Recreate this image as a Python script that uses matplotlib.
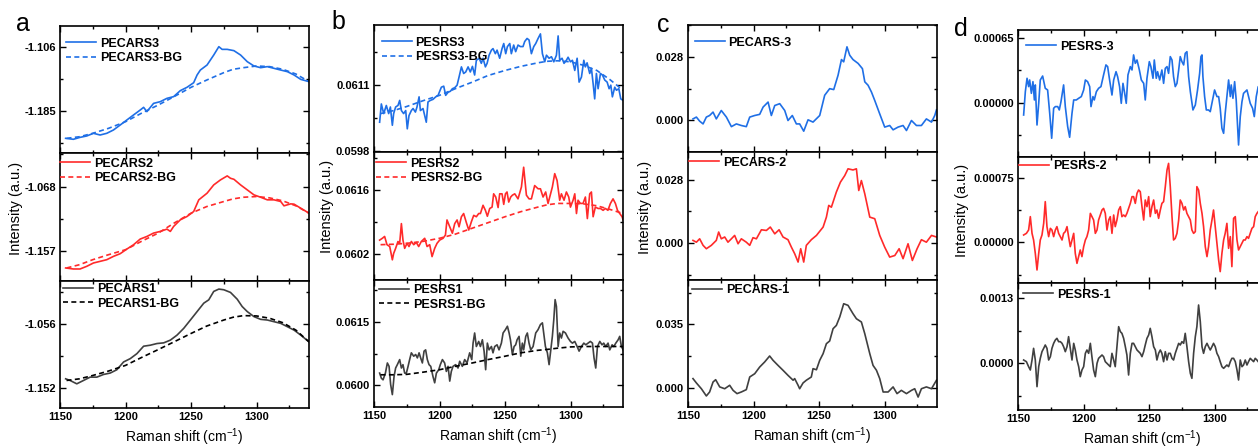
import matplotlib
matplotlib.use("Agg")
import matplotlib.pyplot as plt
from matplotlib.ticker import AutoMinorLocator, MultipleLocator

plt.rcParams['font.family'] = ['Liberation Sans', 'DejaVu Sans']
plt.rcParams['axes.unicode_minus'] = False
plt.rcParams['mathtext.fontset'] = 'custom'
plt.rcParams['mathtext.rm'] = 'Liberation Sans'
plt.rcParams['mathtext.default'] = 'regular'

BLUE = '#1f6fe6'
RED = '#ff2a2a'
GREY = '#404040'

# ---------------- panel a : PECARS raw spectra + backgrounds ----------------
a3_x = [1154.3, 1160.2, 1165.3, 1170.4, 1175.5, 1180.6, 1185.7, 1190.8, 1195.9, 1201.0,
        1206.1, 1211.2, 1213.8, 1216.3, 1221.4, 1226.5, 1231.6, 1236.7, 1241.8, 1246.9,
        1252.0, 1254.6, 1257.1, 1262.2, 1267.3, 1271.2, 1273.7, 1277.6, 1282.7, 1287.8,
        1292.9, 1298.0, 1303.1, 1308.2, 1313.3, 1318.4, 1323.5, 1328.6, 1333.7, 1340.0]
a3_y = [-1.2186, -1.2198, -1.2174, -1.2157, -1.2124, -1.2145, -1.2124, -1.2083, -1.2022, -1.1960,
        -1.1898, -1.1837, -1.1804, -1.1857, -1.1755, -1.1734, -1.1693, -1.1672, -1.1598, -1.1557,
        -1.1500, -1.1405, -1.1344, -1.1282, -1.1159, -1.1056, -1.1089, -1.1089, -1.1105, -1.1159,
        -1.1241, -1.1294, -1.1315, -1.1302, -1.1323, -1.1344, -1.1364, -1.1405, -1.1459, -1.1487]
bg_x = [1155, 1165, 1175, 1187, 1200, 1212, 1225, 1237, 1250, 1262,
        1275, 1282, 1290, 1300, 1310, 1320, 1330, 1340]
a3_bg = [-1.2186, -1.2166, -1.2124, -1.2063, -1.1981, -1.1878, -1.1775, -1.1672, -1.1557, -1.1467,
         -1.1376, -1.1335, -1.1315, -1.1294, -1.1302, -1.1335, -1.1393, -1.1487]

a2_x = [1154.3, 1160.2, 1165.3, 1170.4, 1175.5, 1180.6, 1185.7, 1190.8, 1195.9, 1201.0,
        1206.1, 1211.2, 1216.3, 1221.4, 1226.5, 1231.6, 1234.2, 1236.7, 1241.8, 1246.9,
        1252.0, 1255.9, 1262.2, 1267.3, 1272.4, 1277.6, 1280.1, 1282.7, 1287.8, 1292.9,
        1298.0, 1303.1, 1308.2, 1313.3, 1318.4, 1320.9, 1326.0, 1328.6, 1333.7, 1340.0]
a2_y = [-1.1809, -1.1823, -1.1823, -1.1786, -1.1740, -1.1717, -1.1694, -1.1648, -1.1611, -1.1547,
        -1.1487, -1.1408, -1.1372, -1.1325, -1.1302, -1.1270, -1.1302, -1.1233, -1.1141, -1.1095,
        -1.1026, -1.0864, -1.0772, -1.0657, -1.0588, -1.0532, -1.0565, -1.0579, -1.0657, -1.0726,
        -1.0795, -1.0828, -1.0864, -1.0864, -1.0887, -1.0947, -1.0920, -1.0924, -1.0980, -1.1049]
a2_bg = [-1.1809, -1.1763, -1.1694, -1.1625, -1.1556, -1.1441, -1.1325, -1.1187, -1.1049, -1.0957,
         -1.0887, -1.0851, -1.0828, -1.0818, -1.0837, -1.0878, -1.0947, -1.1049]

a1_x = [1154.3, 1157.7, 1162.8, 1167.9, 1173.0, 1178.1, 1183.2, 1188.3, 1193.4, 1198.5,
        1203.6, 1208.7, 1213.8, 1218.9, 1224.0, 1229.1, 1234.2, 1239.3, 1244.4, 1249.5,
        1254.6, 1259.7, 1263.5, 1267.3, 1271.2, 1275.0, 1280.1, 1285.2, 1289.0, 1292.9,
        1298.0, 1303.1, 1308.2, 1313.3, 1318.4, 1323.5, 1328.6, 1333.7, 1340.0]
a1_y = [-1.1380, -1.1405, -1.1455, -1.1405, -1.1355, -1.1355, -1.1315, -1.1294, -1.1244, -1.1128,
        -1.1078, -1.1003, -1.0892, -1.0877, -1.0852, -1.0842, -1.0801, -1.0726, -1.0625, -1.0500,
        -1.0374, -1.0248, -1.0198, -1.0072, -1.0037, -1.0047, -1.0087, -1.0188, -1.0298, -1.0374,
        -1.0449, -1.0490, -1.0500, -1.0525, -1.0550, -1.0600, -1.0651, -1.0726, -1.0827]
a1_bg = [-1.1405, -1.1380, -1.1330, -1.1264, -1.1179, -1.1063, -1.0942, -1.0827, -1.0701, -1.0590,
         -1.0500, -1.0459, -1.0434, -1.0439, -1.0474, -1.0540, -1.0651, -1.0827]

# ---------------- panel b : PESRS raw spectra + backgrounds ----------------
b3_x = [1154.3, 1155.6, 1157.4, 1159.4, 1161.2, 1162.5, 1164.0, 1165.0, 1166.5, 1168.3,
        1169.6, 1170.9, 1172.6, 1174.2, 1175.4, 1176.7, 1178.5, 1179.8, 1181.6, 1182.8,
        1184.4, 1185.4, 1187.4, 1188.7, 1189.9, 1191.2, 1193.0, 1195.0, 1197.1, 1198.9,
        1201.4, 1203.2, 1204.7, 1206.5, 1208.3, 1209.8, 1211.6, 1213.4, 1214.9, 1216.7,
        1218.4, 1220.0, 1221.8, 1223.5, 1225.1, 1226.8, 1228.1, 1230.2, 1231.9, 1233.2,
        1235.0, 1236.3, 1237.8, 1239.6, 1240.8, 1242.6, 1243.9, 1245.9, 1247.7, 1249.0,
        1250.5, 1251.8, 1253.6, 1254.8, 1256.6, 1258.1, 1259.9, 1261.7, 1263.7, 1265.0,
        1266.8, 1268.3, 1270.1, 1271.9, 1273.4, 1275.2, 1277.0, 1278.5, 1280.3, 1281.6,
        1283.6, 1285.4, 1287.2, 1289.2, 1290.5, 1291.7, 1293.5, 1295.0, 1296.8, 1298.1,
        1299.9, 1301.4, 1303.2, 1305.0, 1306.5, 1308.3, 1310.1, 1311.3, 1312.6, 1314.6,
        1315.9, 1317.2, 1318.4, 1319.7, 1321.0, 1322.8, 1324.3, 1326.1, 1327.9, 1329.4,
        1330.7, 1331.9, 1333.7, 1335.0, 1336.8, 1338.3, 1340.1]
b3_y = [0.06036, 0.06072, 0.06053, 0.06069, 0.06053, 0.06066, 0.06030, 0.06053, 0.06066, 0.06069,
        0.06079, 0.06059, 0.06053, 0.06059, 0.06023, 0.06049, 0.06059, 0.06063, 0.06056, 0.06066,
        0.06086, 0.06059, 0.06063, 0.06049, 0.06036, 0.06076, 0.06079, 0.06081, 0.06086, 0.06089,
        0.06105, 0.06107, 0.06089, 0.06095, 0.06097, 0.06102, 0.06104, 0.06109, 0.06125, 0.06145,
        0.06132, 0.06135, 0.06145, 0.06135, 0.06146, 0.06129, 0.06158, 0.06162, 0.06152, 0.06162,
        0.06145, 0.06152, 0.06168, 0.06178, 0.06181, 0.06171, 0.06178, 0.06162, 0.06181, 0.06191,
        0.06171, 0.06185, 0.06191, 0.06171, 0.06188, 0.06175, 0.06188, 0.06185, 0.06185, 0.06195,
        0.06201, 0.06198, 0.06171, 0.06185, 0.06191, 0.06201, 0.06210, 0.06171, 0.06155, 0.06168,
        0.06162, 0.06165, 0.06155, 0.06168, 0.06206, 0.06158, 0.06162, 0.06152, 0.06158, 0.06164,
        0.06155, 0.06158, 0.06138, 0.06162, 0.06115, 0.06125, 0.06158, 0.06145, 0.06153, 0.06132,
        0.06142, 0.06112, 0.06082, 0.06132, 0.06102, 0.06132, 0.06129, 0.06119, 0.06115, 0.06102,
        0.06109, 0.06086, 0.06105, 0.06099, 0.06102, 0.06082, 0.06079]
b3_bg = [0.06053, 0.06059, 0.06067, 0.06078, 0.06089, 0.06102, 0.06115, 0.06128, 0.06138, 0.06146,
         0.06153, 0.06156, 0.06157, 0.06155, 0.06148, 0.06138, 0.06120, 0.06099]

b2_x = [1154.3, 1156.4, 1158.1, 1159.9, 1162.0, 1164.0, 1165.0, 1166.5, 1168.3, 1169.6,
        1170.9, 1172.1, 1173.4, 1175.2, 1176.7, 1178.5, 1180.3, 1182.3, 1184.1, 1186.1,
        1188.7, 1190.5, 1192.5, 1194.3, 1196.3, 1198.1, 1200.1, 1202.7, 1204.5, 1205.7,
        1207.8, 1209.8, 1211.6, 1213.4, 1214.9, 1216.7, 1218.4, 1220.5, 1222.3, 1224.3,
        1226.1, 1228.1, 1229.9, 1231.2, 1233.2, 1235.0, 1236.5, 1238.3, 1240.1, 1241.3,
        1242.9, 1244.7, 1245.9, 1247.7, 1249.0, 1250.3, 1251.5, 1252.8, 1254.3, 1255.6,
        1257.4, 1259.9, 1262.5, 1264.2, 1266.3, 1268.3, 1270.1, 1272.6, 1275.2, 1277.0,
        1279.0, 1281.0, 1282.8, 1284.1, 1286.1, 1287.9, 1289.7, 1291.7, 1293.0, 1295.0,
        1296.8, 1298.6, 1299.9, 1301.9, 1303.2, 1304.5, 1305.7, 1307.5, 1309.5, 1311.3,
        1312.8, 1314.6, 1315.9, 1317.2, 1318.9, 1321.0, 1322.8, 1324.8, 1326.6, 1328.5,
        1330.4, 1332.4, 1334.2, 1335.8, 1337.5, 1339.3, 1340.1]
b2_y = [0.06050, 0.06054, 0.06058, 0.06040, 0.06036, 0.06007, 0.06021, 0.06032, 0.06047, 0.06043,
        0.06086, 0.06050, 0.06032, 0.06043, 0.06036, 0.06047, 0.06040, 0.06045, 0.06036, 0.06047,
        0.06054, 0.06036, 0.06040, 0.06014, 0.06032, 0.06043, 0.06050, 0.06054, 0.06061, 0.06094,
        0.06079, 0.06065, 0.06086, 0.06094, 0.06079, 0.06101, 0.06108, 0.06088, 0.06072, 0.06090,
        0.06104, 0.06101, 0.06108, 0.06108, 0.06126, 0.06115, 0.06102, 0.06119, 0.06122, 0.06151,
        0.06144, 0.06121, 0.06151, 0.06151, 0.06128, 0.06151, 0.06155, 0.06133, 0.06144, 0.06148,
        0.06151, 0.06140, 0.06166, 0.06209, 0.06148, 0.06140, 0.06140, 0.06169, 0.06162, 0.06162,
        0.06144, 0.06155, 0.06130, 0.06144, 0.06166, 0.06195, 0.06180, 0.06137, 0.06151, 0.06137,
        0.06155, 0.06144, 0.06122, 0.06137, 0.06151, 0.06108, 0.06137, 0.06130, 0.06130, 0.06144,
        0.06097, 0.06151, 0.06155, 0.06101, 0.06122, 0.06119, 0.06119, 0.06115, 0.06119, 0.06115,
        0.06130, 0.06140, 0.06130, 0.06115, 0.06108, 0.06101, 0.06094]
b2_bg = [0.06040, 0.06041, 0.06043, 0.06047, 0.06054, 0.06063, 0.06076, 0.06088, 0.06101, 0.06112,
         0.06122, 0.06127, 0.06130, 0.06130, 0.06129, 0.06125, 0.06117, 0.06108]

b1_x = [1154.3, 1155.6, 1156.9, 1158.7, 1160.2, 1161.5, 1162.7, 1164.0, 1165.3, 1166.5,
        1167.8, 1169.6, 1170.9, 1172.1, 1173.4, 1174.7, 1176.0, 1177.2, 1178.5, 1180.3,
        1181.8, 1183.1, 1184.4, 1185.6, 1186.9, 1188.2, 1189.4, 1190.7, 1192.0, 1193.3,
        1195.0, 1196.3, 1197.6, 1199.4, 1200.6, 1202.2, 1203.9, 1205.2, 1206.5, 1207.8,
        1209.0, 1210.3, 1212.3, 1214.1, 1215.4, 1217.4, 1219.2, 1221.0, 1223.0, 1224.6,
        1225.6, 1226.8, 1228.1, 1229.9, 1231.2, 1232.7, 1234.0, 1235.2, 1236.5, 1237.8,
        1239.6, 1240.8, 1242.1, 1243.9, 1245.4, 1247.2, 1248.5, 1250.3, 1251.8, 1253.1,
        1254.1, 1255.6, 1256.9, 1258.1, 1259.2, 1260.7, 1262.0, 1263.2, 1264.2, 1265.8,
        1267.0, 1268.3, 1269.6, 1271.4, 1273.4, 1275.2, 1277.0, 1278.5, 1279.5, 1280.8,
        1282.3, 1283.6, 1284.9, 1286.1, 1287.2, 1288.2, 1289.2, 1290.5, 1291.7, 1293.0,
        1294.3, 1296.1, 1298.1, 1299.9, 1301.4, 1303.2, 1305.0, 1306.5, 1308.3, 1310.1,
        1311.6, 1313.4, 1315.1, 1316.7, 1317.9, 1319.2, 1320.5, 1322.3, 1324.0, 1325.3,
        1326.8, 1328.6, 1329.9, 1331.7, 1333.0, 1334.5, 1336.3, 1337.5, 1338.8, 1340.1]
b1_y = [0.06029, 0.06017, 0.06013, 0.06029, 0.06053, 0.06045, 0.06002, 0.05978, 0.06021, 0.06041,
        0.06049, 0.06061, 0.06041, 0.06049, 0.06029, 0.06029, 0.06045, 0.06061, 0.06077, 0.06069,
        0.06073, 0.06065, 0.06077, 0.06065, 0.06053, 0.06081, 0.06084, 0.06061, 0.06049, 0.06045,
        0.06021, 0.06006, 0.06029, 0.06037, 0.06049, 0.06061, 0.06053, 0.06033, 0.06045, 0.06010,
        0.06033, 0.06045, 0.06049, 0.06041, 0.06057, 0.06045, 0.06061, 0.06053, 0.06077, 0.06061,
        0.06100, 0.06124, 0.06092, 0.06104, 0.06092, 0.06108, 0.06081, 0.06037, 0.06100, 0.06084,
        0.06092, 0.06077, 0.06092, 0.06096, 0.06084, 0.06100, 0.06124, 0.06132, 0.06140, 0.06124,
        0.06108, 0.06073, 0.06092, 0.06096, 0.06108, 0.06116, 0.06069, 0.06100, 0.06084, 0.06116,
        0.06124, 0.06100, 0.06084, 0.06092, 0.06124, 0.06132, 0.06144, 0.06148, 0.06124, 0.06092,
        0.06077, 0.06049, 0.06084, 0.06116, 0.06156, 0.06203, 0.06187, 0.06092, 0.06124, 0.06112,
        0.06128, 0.06124, 0.06112, 0.06104, 0.06100, 0.06104, 0.06092, 0.06081, 0.06092, 0.06100,
        0.06096, 0.06100, 0.06104, 0.06100, 0.06065, 0.06041, 0.06092, 0.06104, 0.06096, 0.06100,
        0.06092, 0.06100, 0.06084, 0.06096, 0.06092, 0.06100, 0.06108, 0.06116, 0.06092, 0.06084]
b1_bg = [0.06025, 0.06025, 0.06026, 0.06031, 0.06037, 0.06045, 0.06053, 0.06061, 0.06069, 0.06077,
         0.06083, 0.06085, 0.06088, 0.06091, 0.06092, 0.06092, 0.06092, 0.06092]

# ---------------- panel c : PECARS after background removal ----------------
c3_x = [1153.8, 1156.4, 1158.9, 1161.5, 1164.0, 1166.5, 1169.1, 1171.6, 1175.4, 1179.3,
        1183.1, 1186.9, 1190.7, 1194.5, 1197.1, 1200.9, 1204.7, 1207.3, 1211.1, 1213.6,
        1216.2, 1220.0, 1223.8, 1226.3, 1229.6, 1232.7, 1235.2, 1238.3, 1241.6, 1245.4,
        1250.5, 1254.3, 1258.1, 1261.2, 1264.5, 1267.1, 1268.8, 1271.3, 1273.4, 1275.9,
        1279.8, 1283.1, 1284.9, 1287.4, 1290.0, 1292.5, 1296.3, 1300.1, 1303.9, 1306.5,
        1310.3, 1314.1, 1316.7, 1320.5, 1324.3, 1328.1, 1331.9, 1335.8, 1338.3, 1339.6]
c3_y = [0.0007, 0.0015, -0.0003, -0.0015, 0.0015, 0.0022, 0.0037, 0.0007, 0.0044, 0.0015,
        -0.0027, -0.0015, -0.0022, -0.0027, 0.0015, 0.0022, 0.0027, 0.0059, 0.0081, 0.0022,
        0.0066, 0.0074, 0.0044, 0.0000, 0.0022, -0.0015, -0.0015, -0.0047, 0.0003, -0.0007,
        0.0022, 0.0111, 0.0140, 0.0136, 0.0199, 0.0268, 0.0258, 0.0324, 0.0287, 0.0268,
        0.0251, 0.0228, 0.0170, 0.0155, 0.0125, 0.0088, 0.0029, -0.0029, -0.0022, -0.0041,
        -0.0029, -0.0022, -0.0044, 0.0000, -0.0022, -0.0022, 0.0007, -0.0007, 0.0022, 0.0047]

c2_x = [1153.8, 1156.4, 1158.9, 1161.5, 1164.0, 1167.8, 1171.6, 1173.4, 1175.4, 1178.0,
        1180.5, 1183.1, 1185.6, 1188.2, 1190.7, 1194.5, 1197.1, 1199.6, 1202.2, 1206.0,
        1209.8, 1212.8, 1216.2, 1219.5, 1222.5, 1226.3, 1228.9, 1231.4, 1234.0, 1236.0,
        1238.3, 1240.3, 1244.1, 1248.0, 1253.1, 1255.6, 1257.4, 1259.4, 1263.2, 1266.3,
        1269.6, 1272.1, 1275.9, 1278.5, 1280.3, 1282.3, 1284.9, 1288.7, 1292.5, 1296.3,
        1300.1, 1303.9, 1307.8, 1311.1, 1314.1, 1317.9, 1321.2, 1324.8, 1328.1, 1331.9,
        1335.8, 1339.6]
c2_y = [0.0012, 0.0004, 0.0019, -0.0010, -0.0025, -0.0010, 0.0012, 0.0049, 0.0019, 0.0027,
        0.0004, 0.0019, 0.0034, -0.0003, 0.0019, 0.0004, -0.0010, 0.0024, 0.0019, 0.0059,
        0.0056, 0.0071, 0.0041, 0.0059, 0.0027, 0.0015, -0.0018, -0.0047, -0.0084, -0.0025,
        -0.0084, -0.0010, 0.0015, 0.0034, 0.0071, 0.0115, 0.0167, 0.0159, 0.0226, 0.0270,
        0.0299, 0.0329, 0.0324, 0.0329, 0.0233, 0.0277, 0.0218, 0.0115, 0.0108, 0.0034,
        -0.0018, -0.0062, -0.0055, -0.0025, -0.0069, -0.0003, -0.0077, -0.0025, 0.0015, 0.0004,
        0.0034, 0.0027]

c1_x = [1153.8, 1156.4, 1160.2, 1164.0, 1166.5, 1169.1, 1171.1, 1174.2, 1178.0, 1181.8,
        1184.4, 1187.4, 1190.7, 1194.5, 1197.1, 1200.9, 1204.7, 1208.5, 1212.3, 1214.9,
        1218.7, 1222.5, 1226.3, 1230.2, 1231.4, 1234.0, 1235.2, 1237.8, 1240.3, 1244.1,
        1245.4, 1248.0, 1250.5, 1253.1, 1255.6, 1258.1, 1260.7, 1263.2, 1265.8, 1268.8,
        1272.1, 1275.9, 1278.5, 1282.3, 1284.9, 1288.7, 1291.2, 1293.8, 1296.3, 1298.9,
        1302.7, 1306.5, 1309.5, 1312.8, 1316.7, 1320.5, 1323.0, 1325.6, 1328.1, 1331.9,
        1335.8, 1339.6]
c1_y = [0.0050, 0.0026, -0.0006, -0.0046, -0.0024, 0.0031, 0.0044, 0.0004, -0.0006, 0.0013,
        -0.0015, -0.0033, -0.0024, -0.0011, 0.0059, 0.0077, 0.0114, 0.0142, 0.0175, 0.0151,
        0.0123, 0.0096, 0.0068, 0.0041, 0.0050, 0.0013, -0.0006, 0.0026, 0.0041, 0.0059,
        0.0105, 0.0099, 0.0151, 0.0188, 0.0243, 0.0258, 0.0326, 0.0344, 0.0391, 0.0464,
        0.0455, 0.0409, 0.0381, 0.0363, 0.0298, 0.0188, 0.0123, 0.0096, 0.0050, -0.0024,
        -0.0024, 0.0004, -0.0033, -0.0015, -0.0033, -0.0015, -0.0006, -0.0052, -0.0006, 0.0004,
        -0.0006, 0.0041]

# ---------------- panel d : PESRS after background removal ----------------
d3_x = [1154.3, 1155.6, 1156.9, 1158.1, 1158.9, 1160.2, 1161.4, 1162.5, 1163.2, 1164.5,
        1165.8, 1167.0, 1168.8, 1170.8, 1172.6, 1174.2, 1175.7, 1177.2, 1178.5, 1180.3,
        1181.5, 1182.8, 1184.8, 1186.1, 1187.9, 1189.4, 1191.2, 1192.5, 1194.5, 1196.3,
        1198.3, 1200.1, 1201.4, 1203.1, 1204.7, 1205.7, 1207.2, 1208.2, 1209.8, 1211.5,
        1213.3, 1215.3, 1217.1, 1218.4, 1219.9, 1221.7, 1223.0, 1224.8, 1226.0, 1227.5,
        1228.8, 1230.1, 1231.4, 1232.6, 1233.9, 1235.7, 1237.0, 1238.2, 1239.5, 1240.8,
        1242.6, 1244.1, 1245.9, 1247.1, 1248.4, 1250.2, 1251.4, 1253.0, 1254.0, 1255.5,
        1256.5, 1258.1, 1259.8, 1261.1, 1262.4, 1263.7, 1264.9, 1266.2, 1267.5, 1268.7,
        1270.0, 1271.3, 1272.6, 1273.8, 1275.1, 1276.4, 1277.6, 1278.9, 1280.2, 1281.5,
        1283.5, 1285.3, 1287.0, 1288.6, 1289.6, 1290.4, 1291.1, 1292.4, 1293.7, 1295.4,
        1296.7, 1298.5, 1300.0, 1301.8, 1303.1, 1304.3, 1305.6, 1306.9, 1308.1, 1309.4,
        1310.7, 1312.0, 1312.7, 1314.0, 1315.3, 1316.5, 1317.6, 1318.3, 1319.6, 1320.9,
        1322.1, 1324.7, 1325.9, 1327.2, 1329.0, 1330.3, 1331.8, 1333.3, 1340.0]
d3_y = [-0.000125, 0.000111, 0.000246, 0.000162, 0.000229, 0.000094, 0.000212, 0.000027, 0.000179, -0.000226,
        -0.000007, 0.000229, 0.000269, 0.000145, 0.000128, -0.000108, -0.000360, -0.000057, -0.000040, -0.000040,
        -0.000074, 0.000010, 0.000179, -0.000040, -0.000242, -0.000350, -0.000108, 0.000027, 0.000027, 0.000044,
        0.000061, 0.000128, 0.000229, 0.000212, 0.000162, -0.000040, 0.000061, 0.000027, 0.000111, 0.000145,
        0.000162, 0.000280, 0.000381, 0.000364, 0.000229, 0.000077, 0.000229, 0.000313, 0.000263, 0.000162,
        -0.000007, 0.000195, 0.000094, -0.000007, 0.000280, 0.000364, 0.000330, 0.000482, 0.000397, 0.000431,
        0.000330, 0.000229, 0.000195, 0.000027, 0.000246, 0.000414, 0.000364, 0.000246, 0.000431, 0.000246,
        0.000313, 0.000229, 0.000330, 0.000195, 0.000347, 0.000364, 0.000296, 0.000465, 0.000431, 0.000263,
        0.000162, 0.000195, 0.000330, 0.000465, 0.000414, 0.000381, 0.000498, 0.000515, 0.000263, 0.000111,
        -0.000074, -0.000024, 0.000128, 0.000296, 0.000465, 0.000482, 0.000263, 0.000061, -0.000074, -0.000074,
        -0.000091, 0.000027, 0.000128, 0.000061, 0.000061, -0.000057, -0.000259, -0.000310, -0.000108, 0.000061,
        0.000229, 0.000061, 0.000179, 0.000044, 0.000212, 0.000027, -0.000242, -0.000428, -0.000141, 0.000010,
        0.000094, 0.000128, 0.000061, -0.000007, -0.000057, -0.000141, 0.000061, 0.000162, 0.000100]

d_x = [1154.3, 1156.4, 1158.1, 1159.4,
       1160.7, 1161.9, 1163.2, 1164.5, 1165.8, 1167.0, 1168.3, 1169.6, 1170.8, 1172.1,
       1173.4, 1174.7, 1175.9, 1177.2, 1178.5, 1179.7, 1181.0, 1182.3, 1183.6, 1184.8,
       1186.1, 1187.4, 1188.6, 1189.9, 1191.2, 1192.5, 1193.7, 1195.0, 1196.3, 1197.5,
       1198.8, 1200.1, 1201.4, 1202.6, 1203.9, 1205.2, 1206.4, 1207.7, 1209.0, 1210.3,
       1211.5, 1212.8, 1214.1, 1215.3, 1216.6, 1217.9, 1219.2, 1220.4, 1221.7, 1223.0,
       1224.2, 1225.5, 1226.8, 1228.1, 1229.3, 1230.6, 1231.9, 1233.1, 1234.4, 1235.7,
       1237.0, 1238.2, 1239.5, 1240.8, 1242.0, 1243.3, 1244.6, 1245.9, 1247.1, 1248.4,
       1249.7, 1250.9, 1252.2, 1253.5, 1254.8, 1256.0, 1257.3, 1258.6, 1259.8, 1261.1,
       1262.4, 1263.7, 1264.9, 1266.2, 1267.5, 1268.7, 1270.0, 1271.3, 1272.6, 1273.8,
       1275.1, 1276.4, 1277.6, 1278.9, 1280.2, 1281.5, 1282.7, 1284.0, 1285.3, 1286.5,
       1287.8, 1289.1, 1290.4, 1291.6, 1292.9, 1294.2, 1295.4, 1296.7, 1298.0, 1299.2,
       1300.5, 1301.8, 1303.1, 1304.3, 1305.6, 1306.9, 1308.1, 1309.4, 1310.7, 1312.0,
       1313.2, 1314.5, 1315.8, 1317.1, 1318.3, 1319.6, 1320.9, 1322.1, 1323.4, 1324.7,
       1325.9, 1327.2, 1328.5, 1329.8, 1331.0, 1332.3,
       1333.3]
d2_y = [0.000085, 0.000104, 0.000143, 0.000298,
        0.000104, 0.000027, -0.000128, -0.000321, -0.000128, 0.000027, 0.000085, 0.000220, 0.000472, 0.000182,
        0.000066, 0.000162, 0.000143, 0.000066, 0.000143, 0.000182, 0.000104, 0.000066, 0.000027, 0.000104,
        0.000124, 0.000182, 0.000066, -0.000050, 0.000027, 0.000104, -0.000128, -0.000244, -0.000166, -0.000089,
        -0.000166, -0.000050, 0.000027, 0.000066, 0.000143, 0.000336, 0.000298, 0.000259, 0.000104, 0.000143,
        0.000259, 0.000317, 0.000375, 0.000394, 0.000336, 0.000143, 0.000259, 0.000298, 0.000104, 0.000317,
        0.000182, 0.000259, 0.000375, 0.000414, 0.000298, 0.000317, 0.000298, 0.000336, 0.000394, 0.000452,
        0.000530, 0.000530, 0.000452, 0.000568, 0.000607, 0.000588, 0.000414, 0.000259, 0.000491, 0.000414,
        0.000530, 0.000298, 0.000414, 0.000491, 0.000336, 0.000375, 0.000278, 0.000375, 0.000452, 0.000472,
        0.000646, 0.000839, 0.000916, 0.000646, 0.000298, 0.000027, 0.000046, 0.000104, 0.000259, 0.000491,
        0.000452, 0.000375, 0.000414, 0.000336, 0.000298, 0.000259, 0.000143, 0.000104, 0.000124, 0.000646,
        0.000607, 0.000452, 0.000336, 0.000182, -0.000050, -0.000166, -0.000050, 0.000143, 0.000259, 0.000375,
        0.000182, -0.000012, -0.000205, -0.000340, -0.000128, 0.000027, 0.000104, 0.000220, -0.000070, 0.000066,
        -0.000282, 0.000278, 0.000298, 0.000027, -0.000089, -0.000050, -0.000012, 0.000027, 0.000027, 0.000066,
        0.000046, 0.000104, 0.000162, 0.000182, 0.000298, 0.000336,
        0.000356]
d1_y = [0.000066, 0.000033, -0.000066, -0.000132,
        0.000066, 0.000297, 0.000066, -0.000462, -0.000066, 0.000099, 0.000231, 0.000297, 0.000363, 0.000297,
        0.000066, 0.000132, 0.000297, 0.000396, 0.000462, 0.000495, 0.000429, 0.000429, 0.000396, 0.000330,
        0.000231, 0.000330, 0.000528, 0.000297, 0.000066, 0.000396, 0.000264, 0.000066, -0.000066, -0.000264,
        -0.000132, -0.000066, 0.000198, 0.000264, 0.000198, 0.000396, 0.000132, -0.000132, -0.000264, 0.000000,
        0.000099, 0.000132, 0.000165, 0.000132, 0.000033, 0.000000, -0.000033, -0.000066, 0.000198, 0.000066,
        -0.000066, 0.000330, 0.000726, 0.000627, 0.000594, 0.000495, 0.000330, 0.000165, -0.000231, 0.000198,
        0.000396, 0.000396, 0.000330, 0.000264, 0.000231, 0.000198, 0.000132, 0.000231, 0.000363, 0.000495,
        0.000561, 0.000693, 0.000528, 0.000330, 0.000264, 0.000066, 0.000198, 0.000264, 0.000198, 0.000033,
        0.000231, 0.000066, 0.000198, 0.000198, 0.000099, 0.000066, 0.000198, 0.000297, 0.000396, 0.000363,
        0.000429, 0.000396, 0.000594, 0.000330, 0.000033, -0.000198, -0.000297, 0.000198, 0.000528, 0.000726,
        0.001155, 0.000825, 0.000330, 0.000198, 0.000330, 0.000396, 0.000330, 0.000264, 0.000330, 0.000396,
        0.000330, 0.000198, 0.000132, 0.000033, -0.000066, -0.000099, -0.000066, -0.000033, -0.000066, 0.000033,
        0.000099, 0.000099, 0.000033, -0.000132, -0.000330, 0.000066, -0.000066, -0.000033, 0.000066, -0.000033,
        0.000033, 0.000099, 0.000066, 0.000033, 0.000099, 0.000066,
        0.000033]

x_ticks = [1150, 1200, 1250, 1300]

W, H = 1258, 448
fig = plt.figure(figsize=(W / 100, H / 100), dpi=100)


def make_rows(left, right, top, bottom):
    h = (bottom - top) / 3
    axs = []
    for i in range(3):
        t = top + i * h
        axs.append(fig.add_axes([left / W, 1 - (t + h) / H, (right - left) / W, h / H]))
    return axs


def style(ax, ylim, yticks, ylabels, show_x):
    ax.set_xlim(1150, 1340)
    ax.set_ylim(*ylim)
    ax.set_xticks(x_ticks, [str(t) for t in x_ticks], fontweight='bold', fontsize=8)
    ax.xaxis.set_minor_locator(MultipleLocator(25))
    ax.set_yticks(yticks, ylabels, fontweight='bold', fontsize=8)
    ax.yaxis.set_minor_locator(AutoMinorLocator(2))
    ax.tick_params(which='both', direction='in', top=True, right=True, width=1, pad=3,
                   labelbottom=show_x)
    ax.tick_params(which='major', length=4)
    ax.tick_params(which='minor', length=2.5)
    for s in ax.spines.values():
        s.set_linewidth(1.2)
    if show_x:
        ax.set_xlabel('Raman shift (cm$^{-1}$)', fontsize=10, labelpad=3)


def add_legend(ax, bx, by):
    ax.legend(loc='upper left', bbox_to_anchor=(bx, by), frameon=False, borderpad=0,
              borderaxespad=0, handlelength=2.4, handletextpad=0.3, labelspacing=0.2,
              prop={'weight': 'bold', 'size': 9})


# panel a
ax3, ax2, ax1 = make_rows(60, 309, 26, 408)
ax3.plot(a3_x, a3_y, color=BLUE, lw=1.2, label='PECARS3')
ax3.plot(bg_x, a3_bg, color=BLUE, lw=1.2, ls=(0, (3, 2)), label='PECARS3-BG')
style(ax3, (-1.2371, -1.0801), [-1.185, -1.106], ['-1.185', '-1.106'], False)
add_legend(ax3, 0.024, 0.909)
ax2.plot(a2_x, a2_y, color=RED, lw=1.2, label='PECARS2')
ax2.plot(bg_x, a2_bg, color=RED, lw=1.2, ls=(0, (3, 2)), label='PECARS2-BG')
style(ax2, (-1.1985, -1.0219), [-1.157, -1.068], ['-1.157', '-1.068'], False)
add_legend(ax2, 0.0, 0.965)
ax1.plot(a1_x, a1_y, color=GREY, lw=1.2, label='PECARS1')
ax1.plot(bg_x, a1_bg, color='black', lw=1.2, ls=(0, (3, 2)), label='PECARS1-BG')
style(ax1, (-1.1817, -0.9911), [-1.152, -1.056], ['-1.152', '-1.056'], True)
add_legend(ax1, 0.012, 0.98)

# panel b
ax3, ax2, ax1 = make_rows(374, 623, 25, 407)
ax3.plot(b3_x, b3_y, color=BLUE, lw=1.2, label='PESRS3')
ax3.plot(bg_x, b3_bg, color=BLUE, lw=1.2, ls=(0, (3, 2)), label='PESRS3-BG')
style(ax3, (0.059767, 0.062275), [0.0598, 0.0611], ['0.0598', '0.0611'], False)
add_legend(ax3, 0.031, 0.909)
ax2.plot(b2_x, b2_y, color=RED, lw=1.2, label='PESRS2')
ax2.plot(bg_x, b2_bg, color=RED, lw=1.2, ls=(0, (3, 2)), label='PESRS2-BG')
style(ax2, (0.059637, 0.062415), [0.0602, 0.0616], ['0.0602', '0.0616'], False)
add_legend(ax2, 0.008, 0.957)
ax1.plot(b1_x, b1_y, color=GREY, lw=1.2, label='PESRS1')
ax1.plot(bg_x, b1_bg, color='black', lw=1.2, ls=(0, (3, 2)), label='PESRS1-BG')
style(ax1, (0.059487, 0.062503), [0.0600, 0.0615], ['0.0600', '0.0615'], True)
add_legend(ax1, 0.02, 0.965)

# panel c
ax3, ax2, ax1 = make_rows(688, 937, 25, 407)
ax3.plot(c3_x, c3_y, color=BLUE, lw=1.2, label='PECARS-3')
style(ax3, (-0.0140, 0.0420), [0.0, 0.028], ['0.000', '0.028'], False)
add_legend(ax3, 0.027, 0.909)
ax2.plot(c2_x, c2_y, color=RED, lw=1.2, label='PECARS-2')
style(ax2, (-0.0162, 0.0402), [0.0, 0.028], ['0.000', '0.028'], False)
add_legend(ax2, 0.004, 0.965)
ax1.plot(c1_x, c1_y, color=GREY, lw=1.2, label='PECARS-1')
style(ax1, (-0.0107, 0.0597), [0.0, 0.035], ['0.000', '0.035'], True)
add_legend(ax1, 0.017, 0.965)

# panel d (runs past the right edge of the figure)
ax3, ax2, ax1 = make_rows(1018, 1267, 30, 410)
ax3.plot(d3_x, d3_y, color=BLUE, lw=1.2, label='PESRS-3')
style(ax3, (-0.000546, 0.000734), [0.0, 0.00065], ['0.00000', '0.00065'], False)
add_legend(ax3, 0.033, 0.917)
ax2.plot(d_x, d2_y, color=RED, lw=1.2, label='PESRS-2')
style(ax2, (-0.000476, 0.000994), [0.0, 0.00075], ['0.00000', '0.00075'], False)
add_legend(ax2, 0.004, 0.972)
ax1.plot(d_x, d1_y, color=GREY, lw=1.2, label='PESRS-1')
style(ax1, (-0.000924, 0.001584), [0.0, 0.0013], ['0.0000', '0.0013'], True)
add_legend(ax1, 0.02, 0.957)

# shared y labels and panel letters
for xpix, ypix in [(16, 208), (327, 206), (645, 207), (962, 210)]:
    fig.text(xpix / W, 1 - ypix / H, 'Intensity (a.u.)', rotation=90,
             ha='center', va='center', fontsize=10.5)
for letter, xpix, ypix in [('a', 23, 24), ('b', 338, 22), ('c', 663, 25), ('d', 961, 29)]:
    fig.text(xpix / W, 1 - ypix / H, letter, ha='center', va='center', fontsize=18)

fig.savefig('out.png', dpi=100)
